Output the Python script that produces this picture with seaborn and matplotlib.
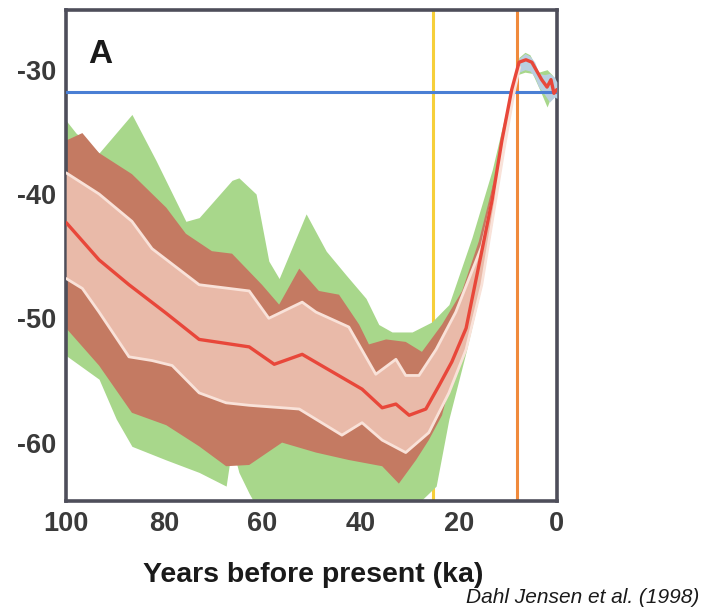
import numpy as np
import pandas as pd
import matplotlib.pyplot as plt
import seaborn as sns

sns.set_theme(style="white")
plt.rcParams['font.family'] = ['Liberation Sans', 'DejaVu Sans']
plt.rcParams['axes.unicode_minus'] = False

# ---------------------------------------------------
# Data (ka before present, deg C)
# ---------------------------------------------------

# red mean curve
mean_ka = [100, 93.3, 87.2, 79.6, 72.9, 62.7, 57.6, 51.9, 45.8, 39.7, 35.6, 32.8,
           30.1, 26.7, 24.0, 21.4, 18.5, 15.3, 13.2, 11.2, 9.2, 7.7, 6.3, 5.1,
           3.1, 2.0, 1.2, 0.6, 0]
mean_t = [-42.3, -45.3, -47.3, -49.6, -51.7, -52.3, -53.7, -52.9, -54.3, -55.7,
          -57.2, -56.9, -57.8, -57.3, -55.4, -53.5, -50.8, -44.6, -40.5, -35.7,
          -31.6, -29.4, -29.2, -29.4, -30.8, -31.4, -30.8, -31.9, -31.6]

# white upper / lower bounds
upper_ka = [100, 93.3, 86.6, 82.5, 72.9, 62.7, 58.7, 51.9, 49.1, 42.4, 36.9,
            32.8, 30.8, 28.1, 24.6, 20.6, 15.3, 12.2, 9.8, 8.2]
upper_t = [-38.3, -40.0, -42.2, -44.4, -47.3, -47.8, -50.0, -48.7, -49.5, -50.7,
           -54.5, -53.3, -54.6, -54.6, -52.5, -49.5, -44.2, -38.9, -33.2, -30.2]
lower_ka = [100, 96.7, 93.3, 87.2, 82.5, 78.4, 72.9, 67.4, 62.7, 52.5, 43.8,
            39.7, 35.6, 30.8, 26.1, 22.0, 18.5, 15.3, 10.8, 8.8, 7.6]
lower_t = [-46.8, -47.6, -49.5, -53.1, -53.4, -53.8, -56.0, -56.8, -57.0, -57.3,
           -59.4, -58.4, -59.8, -60.8, -59.2, -56.0, -52.5, -47.3, -36.5, -32.0,
           -29.8]

# brown band edges
brown_top_ka = [100, 96.7, 93.3, 86.6, 79.6, 75.6, 70.3, 66.2, 60.1, 56.6, 52.5,
                48.5, 44.4, 40.3, 38.3, 34.8, 30.8, 27.5, 23.4, 19.3, 15.9, 11.8,
                9.4, 8.0, 6.5, 5.0, 3.0, 2.0, 1.0, 0]
brown_top_t = [-35.7, -35.1, -36.7, -38.4, -41.1, -43.2, -44.6, -44.8, -47.3,
               -48.9, -46.0, -47.8, -48.1, -50.5, -52.1, -51.7, -51.9, -52.7,
               -50.5, -47.8, -43.8, -37.3, -32.4, -29.8, -29.1, -29.3, -30.7,
               -31.2, -30.6, -31.4]
brown_bot_ka = [100, 93.3, 86.6, 79.6, 72.9, 67.4, 62.7, 56.0, 49.1, 42.4, 35.6,
                32.2, 28.7, 26.1, 23.4, 20.6, 16.5, 12.8, 9.8, 8.0, 6.5, 5.0,
                3.0, 2.0, 1.0, 0]
brown_bot_t = [-50.8, -53.8, -57.6, -58.6, -60.3, -61.9, -61.8, -60.0, -60.8,
               -61.4, -61.9, -63.3, -61.4, -59.8, -57.8, -53.5, -47.3, -38.9,
               -33.2, -30.2, -29.6, -29.8, -31.2, -31.8, -31.2, -31.9]

# green band edges (lower edge runs off the axis between ~62 and ~28 ka)
green_top_ka = [100, 98.0, 93.3, 86.6, 81.7, 75.6, 72.9, 66.2, 64.8, 61.3, 58.7,
                56.6, 51.1, 47.0, 43.0, 38.9, 36.3, 33.6, 29.5, 25.5, 22.0, 17.3,
                13.2, 9.8, 7.7, 6.5, 5.5, 3.7, 2.0, 1.0, 0]
green_top_t = [-34.1, -35.1, -36.7, -33.6, -37.3, -42.2, -41.9, -38.9, -38.7,
               -40.0, -45.4, -46.8, -41.6, -44.6, -46.5, -48.4, -50.5, -51.1,
               -51.1, -50.3, -48.9, -43.5, -38.1, -32.4, -29.0, -28.6, -28.8,
               -30.2, -30.0, -30.4, -31.0]
green_bot_ka = [100, 93.3, 89.8, 86.6, 79.6, 72.9, 67.4, 66.2, 64.8, 62.7, 60.0,
                30.0, 27.5, 24.6, 22.0, 18.5, 15.3, 11.8, 9.2, 8.0, 6.5, 5.0,
                3.5, 2.0, 1.0, 0]
green_bot_t = [-53.0, -54.9, -58.1, -60.3, -61.4, -62.4, -63.5, -60.3, -62.4,
               -64.1, -66.0, -66.0, -64.6, -63.5, -58.1, -52.7, -47.3, -38.9,
               -32.4, -30.4, -30.2, -30.3, -31.6, -33.0, -32.0, -32.4]

# pale blue-grey spread around the Holocene part of the curve
holo_band_ka = [8.5, 7.7, 6.5, 5.5, 4.5, 3.7, 2.5, 1.5, 0.5, 0]
holo_band_top = [-30.6, -29.1, -28.7, -28.9, -29.4, -30.3, -30.4, -30.3, -30.6,
                 -31.0]
holo_band_bot = [-31.4, -30.2, -30.0, -30.1, -30.6, -31.4, -32.0, -32.6, -32.2,
                 -32.3]

# reference markers
present_t = -31.8      # blue horizontal line
lgm_ka = 25.3          # yellow vertical line
holo_ka = 8.2          # orange vertical line

# ---------------------------------------------------
# Plot
# ---------------------------------------------------

fig = plt.figure(figsize=(7.04, 6.11), dpi=100)
ax = fig.add_axes([0.094, 0.18, 0.697, 0.8036])

grid = np.linspace(0, 100, 1001)


def band(ax, top_ka, top_t, bot_ka, bot_t, **kw):
    # fill only where both edges are defined
    lo = max(min(top_ka), min(bot_ka))
    hi = min(max(top_ka), max(bot_ka))
    top = np.interp(grid, top_ka[::-1], top_t[::-1])
    bot = np.interp(grid, bot_ka[::-1], bot_t[::-1])
    ok = (grid >= lo) & (grid <= hi) & (top > bot)
    ax.fill_between(grid, bot, top, where=ok, linewidth=0, **kw)


ax.axvline(lgm_ka, color="#f6cf3a", lw=2.2, zorder=0.5)
ax.axvline(holo_ka, color="#f08a3c", lw=2.2, zorder=0.5)

band(ax, green_top_ka, green_top_t, green_bot_ka, green_bot_t,
     color="#a8d78b", zorder=1)
band(ax, brown_top_ka, brown_top_t, brown_bot_ka, brown_bot_t,
     color="#c47a62", zorder=2)
band(ax, upper_ka, upper_t, lower_ka, lower_t,
     color="#e9baa9", zorder=3)
band(ax, holo_band_ka, holo_band_top, holo_band_ka, holo_band_bot,
     color="#b9cfe0", zorder=3)

ax.axhline(present_t, color="#4a7fd4", lw=2.2, zorder=3.5)

lines = pd.DataFrame({"ka": upper_ka, "t": upper_t})
sns.lineplot(data=lines, x="ka", y="t", color="#f9e2d9", lw=2.0,
             sort=False, ax=ax, zorder=4)
lines = pd.DataFrame({"ka": lower_ka, "t": lower_t})
sns.lineplot(data=lines, x="ka", y="t", color="#f9e2d9", lw=2.0,
             sort=False, ax=ax, zorder=4)
curve = pd.DataFrame({"ka": mean_ka, "t": mean_t})
sns.lineplot(data=curve, x="ka", y="t", color="#e8473a", lw=2.4,
             sort=False, ax=ax, zorder=5)

ax.set_xlim(100, 0)
ax.set_ylim(-64.7, -25.2)
ax.set_xticks([100, 80, 60, 40, 20, 0])
ax.set_yticks([-30, -40, -50, -60])
ax.tick_params(length=0, labelsize=19.5, labelcolor="#3a3a3a", pad=7)
for lab in ax.get_xticklabels() + ax.get_yticklabels():
    lab.set_fontweight("bold")
for s in ax.spines.values():
    s.set_color("#4e4e5a")
    s.set_linewidth(2.6)

ax.set_xlabel("")
ax.set_ylabel("")
ax.text(0.045, 0.94, "A", transform=ax.transAxes, fontsize=24,
        fontweight="bold", color="#1a1a1a", va="top")

fig.text(0.445, 0.059, "Years before present (ka)", ha="center", va="center",
         fontsize=20.5, fontweight="bold", color="#1a1a1a")
fig.text(0.994, 0.022, "Dahl Jensen et al. (1998)", ha="right", va="center",
         fontsize=15, style="italic", color="#1a1a1a")

fig.savefig("out.png", dpi=100)
